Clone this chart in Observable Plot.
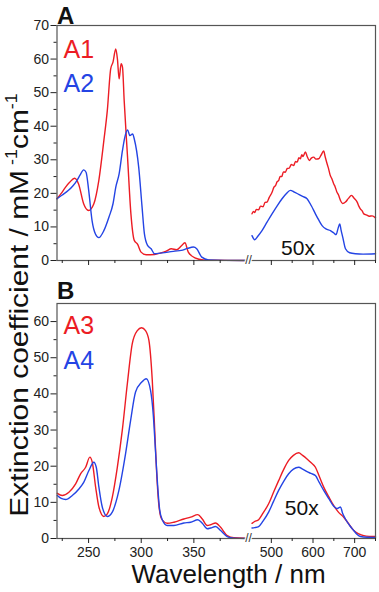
<!DOCTYPE html>
<html><head><meta charset="utf-8">
<script src="https://cdn.jsdelivr.net/npm/d3@7"></script>
<script src="https://cdn.jsdelivr.net/npm/@observablehq/plot@0.6"></script>
<style>
body{margin:0;background:#fff;font-family:"Liberation Sans",Arial,sans-serif;}
#wrap{position:relative;width:379px;height:592px;overflow:hidden;background:#fff;}
#pa,#pb{position:absolute;left:0;}
#pa{top:0;}#pb{top:270px;}
#ylab{position:absolute;left:19px;top:305px;transform:translate(-50%,-50%) rotate(-90deg) scaleX(1.15);white-space:nowrap;font-size:26px;line-height:26px;color:#111;}
#ylab sup{font-size:0.6em;vertical-align:0.7em;line-height:0;}
#xlab{position:absolute;left:228.5px;top:561px;transform:translateX(-50%);white-space:nowrap;font-size:26px;line-height:26px;color:#111;}
</style></head><body>
<div id="wrap">
<div id="pa"></div><div id="pb"></div>
<div id="ylab">Extinction coefficient / mM<sup> -1</sup>cm<sup>-1</sup></div>
<div id="xlab">Wavelength / nm</div>
</div>
<script>
const RED = "#ec1c24", BLUE = "#2444e4";

// Panel A
const A1_UV = [[220,18.4],[224,20],[228,21.8],[232,23.3],[236.7,24.5],[240.5,22.8],[245.3,16.9],[250,14.9],[255,16.9],[259.7,23.8],[264.5,35.7],[267.8,44.7],[271,57.1],[273.2,59.1],[275.8,63.0],[277.4,60],[279,54.1],[280.9,58.6],[282.2,57.6],[283.8,47.7],[287,30.8],[290.2,13.9],[293.4,6],[296.6,4.8],[299.8,2.5],[304.6,1.7],[312.6,1.8],[318,2.2],[323.8,2.8],[328.6,3.5],[333.5,3.2],[338,4.3],[341.5,5.3],[344.7,2.5],[351,0.8],[359,0.2],[370,0.1],[400,0]];
const A2_UV = [[220,18.4],[225,19.5],[230.9,20.9],[235,22.2],[238.9,23.8],[242,25.5],[245.3,27],[247.6,26.3],[250.1,20.9],[253.3,11.9],[256.5,7.9],[259.7,6.8],[264.5,8.9],[269.3,12.9],[273.2,16.9],[275.8,21.8],[279,25.8],[282.2,32.8],[284.4,36.7],[287,38.9],[289.2,37.2],[291.8,37.7],[293.4,36.2],[297.6,27.8],[300.8,15.9],[303,8],[306,4.5],[309.4,3.5],[312.6,2],[318,2.2],[325.5,2.5],[332,2.8],[338,3],[344,3.6],[349.5,4],[352.7,3.5],[357.5,1],[364,0.2],[400,0]];
const A1_VIS = [[453.6,13.9],[457,14.6],[460,14.3],[464,15.2],[469.5,15.1],[474,16.2],[480,16],[485,17.3],[489.7,17.4],[495,18.8],[501.7,20.3],[506,21.8],[510,22.3],[514,23.5],[517.5,23.8],[521,25],[525,25],[529,26.4],[533.6,26.3],[538,27.4],[543,27.5],[548,28.6],[553.6,28.3],[558,29.5],[562,29.3],[566,30.6],[569.7,30.3],[573,31.5],[576,31],[581.7,32.3],[586,31],[591.3,29.8],[596,30.5],[601.7,30.8],[607,30.2],[613.7,30.3],[619,31.3],[625.7,32.6],[629,31],[633.8,28.8],[637,27.5],[641,25.5],[645,24.4],[649.8,22.8],[653,22],[657,20.5],[661,19.6],[665.9,17.9],[671,17],[677.9,17.4],[685,18.5],[692.3,19.4],[699,18.5],[706,17.4],[710,16.2],[714,15.3],[718,14.8],[721.9,13.9],[728,13.6],[735,13.2],[742,13.3],[750,12.7]];
const A2_VIS = [[453.6,7.4],[460,6.2],[468,7.3],[477.6,8.9],[490,11.5],[501.7,13.9],[514,16.3],[525.7,18.4],[535,19.8],[545.7,20.9],[555,20.4],[565.7,19.7],[575,19.1],[585.7,18.4],[596,16.3],[605.8,13.9],[614,12],[621.8,10.4],[631,9.4],[641.8,8.9],[650,8.2],[655.5,7.7],[660,9.5],[664.2,10.9],[667.5,9],[671.5,6.9],[677.9,3.5],[688,2.3],[702,2],[720,1.9],[750,2]];

// Panel B
const A3_UV = [[220.3,12.5],[225,11.9],[231.3,12.8],[237.7,15.1],[242.4,17.9],[247.2,19.7],[251.2,22.5],[253.5,21.1],[256.7,14.2],[259.8,8.7],[264.5,6.1],[267.8,6.8],[272.5,11.4],[277.3,19.7],[282,29.9],[286.8,42.8],[291.5,53.9],[296.3,57.5],[300.3,58.3],[304.1,57.5],[307.3,54.8],[310.5,43.7],[312.5,32],[314.5,19],[316.5,10],[318.5,6],[321,4.8],[324.7,4.2],[331,4.5],[340.5,5.4],[346.9,5.9],[353.8,6.6],[358,5.4],[362.7,3.6],[366,3.8],[370.6,4.3],[375.4,3.1],[381.7,0.8],[388,0.2],[400,0.1]];
const A4_UV = [[220.3,11.9],[224,11.1],[228.2,10.8],[234.5,11.9],[240.8,13.7],[245.5,15.6],[250.3,18.8],[255,21.1],[257.3,19.7],[259.8,14.2],[263,8.7],[267.8,6.1],[272.5,7.3],[278.8,13.3],[285.1,23.4],[289.9,32.6],[294.6,40.5],[300.3,43.2],[304.8,44.2],[308.9,40.9],[311.5,34],[313.6,24],[315.5,15],[317.5,8],[320,5.2],[324.7,3.6],[331,3.6],[340.5,4.3],[346.9,4.5],[353.8,5.2],[358,4.2],[362.7,2.7],[366,2.9],[370.6,3.3],[375.4,2.2],[381.7,0.55],[388,0.1],[400,0]];
const A3_VIS = [[453.6,4.2],[460,4.7],[469.5,5.2],[480,7],[493.5,9.6],[505,12.7],[517.5,16],[530,19.2],[541.6,21.6],[553,23],[565.6,23.7],[575,23],[585.7,22],[595,21],[605.8,19.7],[615,17.2],[625.7,14.2],[638,11.5],[649.8,9.1],[661,7.3],[673.8,5.9],[686,4],[697.8,2.2],[710,1.3],[721.9,0.8],[735,0.6],[750,0.55]];
const A4_VIS = [[453.6,2.9],[460,3],[469.5,3.3],[480,4.8],[493.5,7.3],[505,10.2],[517.5,13.3],[530,15.9],[541.6,17.9],[553,19.2],[565.6,19.7],[575,19.2],[585.7,18.5],[595,18],[605.8,17.4],[615,15.5],[625.7,13.3],[638,11],[649.8,8.9],[657,8.3],[662,8.5],[666,8.7],[671,7],[677.8,5.4],[688,3.6],[697.8,2.2],[706,1.1],[713.9,0.55],[730,0.35],[750,0.3]];

const X_MAJOR = [250, 300, 350, 500, 600, 700];
const X_MINOR = [225, 275, 325, 375, 550, 650, 750];
const Y_MAJOR_A = [0, 10, 20, 30, 40, 50, 60, 70];
const Y_MINOR_A = [5, 15, 25, 35, 45, 55, 65];
const Y_MAJOR_B = [0, 10, 20, 30, 40, 50, 60];
const Y_MINOR_B = [5, 15, 25, 35, 45, 55];

// broken axis: 220–400 nm (UV part) and 450–750 nm (visible part, 50x)
const UV_END = 400, VIS_START = 450;
const UV_K = 1.053, VIS_K = 0.4167, GAP = 4;
function brokenX(nm) {
  if (nm <= UV_END) return (nm - 220) * UV_K;
  const uvLen = (UV_END - 220) * UV_K;
  if (nm < VIS_START) return uvLen + (nm - UV_END) / (VIS_START - UV_END) * GAP;
  return uvLen + GAP + (nm - VIS_START) * VIS_K;
}
const X_DOMAIN = [brokenX(220), brokenX(750)];

const FONT = "Liberation Sans, Arial, sans-serif";

function rowsOf(name, uv, vis) {
  return [...uv.map(([nm, v]) => ({nm, v, seg: name + "uv"})), ...vis.map(([nm, v]) => ({nm, v, seg: name + "vis"}))];
}

function panel({series, yMax, yMajor, yMinor, height, marginTop, marginBottom, tickLabels, letter, letterDy, fifty}) {
  const marks = [];
  for (const s of series) {
    marks.push(Plot.line(rowsOf(s.name, s.uv, s.vis), {x: "nm", y: "v", z: "seg", stroke: s.color, strokeWidth: 1.4, curve: "monotone-x"}));
    marks.push(Plot.text([s.name], {frameAnchor: "top-left", dx: 6.5, dy: s.dy, lineAnchor: "bottom", textAnchor: "start", fontSize: 25, fill: s.color}));
  }
  marks.push(
    Plot.frame({stroke: "#555", strokeWidth: 1.2}),
    Plot.axisY(yMajor, {tickSize: 6, tickPadding: 2, fontSize: 14, label: null, tickFormat: d => String(d)}),
    Plot.axisY(yMinor, {tickSize: 3, label: null, tickFormat: () => ""}),
    Plot.axisX(X_MAJOR, {tickSize: 5, tickPadding: 4, fontSize: 14, label: null, tickFormat: tickLabels ? (d => String(d)) : (() => "")}),
    Plot.axisX(X_MINOR, {tickSize: 3, label: null, tickFormat: () => ""}),
    Plot.text([{nm: 425, v: 0}], {x: "nm", y: "v", text: () => "//", fontSize: 12, fill: "#333", stroke: "white", strokeWidth: 2.5, paintOrder: "stroke"}),
    Plot.text([fifty], {x: "nm", y: "v", text: () => "50x", fontSize: 21, fill: "#111", lineAnchor: "bottom"}),
    Plot.text([letter], {frameAnchor: "top-left", dx: 0, dy: letterDy, lineAnchor: "bottom", textAnchor: "start", fontSize: 24, fontWeight: "bold", fill: "#111"})
  );
  return Plot.plot({
    width: 379, height, marginLeft: 56.5, marginRight: 4, marginTop, marginBottom,
    x: {domain: X_DOMAIN, transform: brokenX},
    y: {domain: [0, yMax]},
    style: {fontFamily: FONT, fontSize: "14px", color: "#222", background: "transparent", overflow: "visible"},
    marks
  });
}

document.getElementById("pa").append(panel({
  series: [
    {name: "A1", uv: A1_UV, vis: A1_VIS, color: RED, dy: 32},
    {name: "A2", uv: A2_UV, vis: A2_VIS, color: BLUE, dy: 66}
  ],
  yMax: 70, yMajor: Y_MAJOR_A, yMinor: Y_MINOR_A,
  height: 270, marginTop: 25, marginBottom: 10, tickLabels: false,
  letter: "A", letterDy: -2, fifty: {nm: 564, v: 1.5}
}));

document.getElementById("pb").append(panel({
  series: [
    {name: "A3", uv: A3_UV, vis: A3_VIS, color: RED, dy: 30},
    {name: "A4", uv: A4_UV, vis: A4_VIS, color: BLUE, dy: 65}
  ],
  yMax: 65, yMajor: Y_MAJOR_B, yMinor: Y_MINOR_B,
  height: 322, marginTop: 33, marginBottom: 54, tickLabels: true,
  letter: "B", letterDy: -5, fifty: {nm: 573, v: 6.6}
}));
</script>
</body></html>
